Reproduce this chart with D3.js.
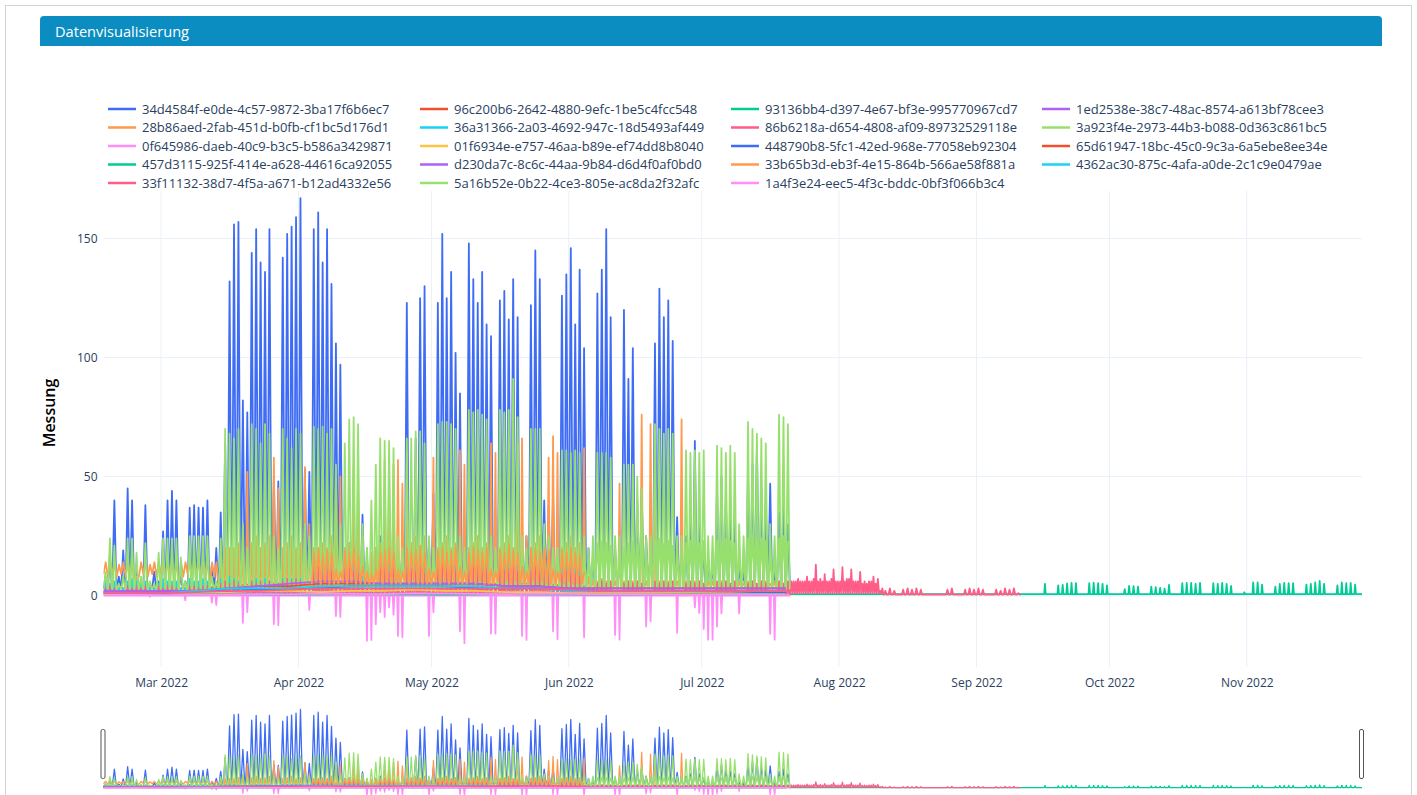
<!DOCTYPE html>
<html>
<head>
<meta charset="utf-8">
<script src="https://cdn.jsdelivr.net/npm/d3@7"></script>
<style>
  body { margin: 0; background: #fff; font-family: "Open Sans", sans-serif; }
  svg { display: block; }
</style>
</head>
<body>
<svg width="1417" height="795"></svg>
<script>
// Tag 0 = 16.02.2022
const startDatum = new Date(2022, 1, 16);

const serienNamen = [
  "34d4584f-e0de-4c57-9872-3ba17f6b6ec7", "96c200b6-2642-4880-9efc-1be5c4fcc548",
  "93136bb4-d397-4e67-bf3e-995770967cd7", "1ed2538e-38c7-48ac-8574-a613bf78cee3",
  "28b86aed-2fab-451d-b0fb-cf1bc5d176d1", "36a31366-2a03-4692-947c-18d5493af449",
  "86b6218a-d654-4808-af09-89732529118e", "3a923f4e-2973-44b3-b088-0d363c861bc5",
  "0f645986-daeb-40c9-b3c5-b586a3429871", "01f6934e-e757-46aa-b89e-ef74dd8b8040",
  "448790b8-5fc1-42ed-968e-77058eb92304", "65d61947-18bc-45c0-9c3a-6a5ebe8ee34e",
  "457d3115-925f-414e-a628-44616ca92055", "d230da7c-8c6c-44aa-9b84-d6d4f0af0bd0",
  "33b65b3d-eb3f-4e15-864b-566ae58f881a", "4362ac30-875c-4afa-a0de-2c1c9e0479ae",
  "33f11132-38d7-4f5a-a671-b12ad4332e56", "5a16b52e-0b22-4ce3-805e-ac8da2f32afc",
  "1a4f3e24-eec5-4f3c-bddc-0bf3f066b3c4"
];

const serienFarben = [
  "#3f6cf4", "#f0502f", "#00cc96", "#ab63fa", "#ff9a4d",
  "#19d3f3", "#ff5c88", "#98e06e", "#ff8ef8", "#fec544",
  "#3f6cf4", "#f0502f", "#00cc96", "#ab63fa", "#ff9a4d",
  "#19d3f3", "#ff5c88", "#98e06e", "#ff8ef8"
];

const yTicks = [0, 50, 100, 150];

// Tagesspitzen ab Tag 0
const w34d4584f = [
  8, 17, 40, 8, 19,
  45, 40, 12, 6, 38, 5, 10,
  6, 27, 40, 44, 40, 8, 6,
  37, 38, 37, 37, 40, 13, 20,
  35, 64, 132, 156, 157, 82, 77,
  144, 154, 140, 136, 154, 50, 48,
  142, 152, 155, 159, 167, 53, 52,
  154, 161, 140, 154, 131, 106, 97,
  20, 22, 20, 18, 34, 15, 12,
  20, 25, 20, 18, 15, 12, 20,
  123, 20, 66, 125, 130, 22, 43,
  123, 152, 125, 136, 102, 85, 20,
  148, 133, 123, 136, 114, 109, 20,
  124, 128, 116, 133, 117, 20, 25,
  122, 145, 133, 40, 38, 42, 15,
  126, 135, 146, 114, 137, 104, 20,
  15, 127, 137, 154, 117, 20, 15,
  120, 91, 104, 40, 45, 25, 20,
  106, 129, 117, 124, 107, 33, 20,
  25, 30, 65, 30, 20, 15, 12,
  45, 50, 40, 35, 30, 12, 10,
  50, 55, 63, 45, 40, 47, 10,
  35, 40, 30
];

// halbtägig, Tag 0 bis 25
const w28b86aed_a = [
  9, 14, 8, 14, 9, 14, 8, 13, 9, 14,
  8, 14, 9, 14, 3, 8, 8, 14, 9, 14, 8, 13, 9, 14,
  8, 14, 9, 14, 8, 14, 9, 14, 8, 14, 3, 14, 8, 14,
  9, 14, 8, 14, 9, 14, 8, 14, 9, 14, 3, 14, 8, 14
];
// Tagesspitzen ab Tag 26
const w28b86aed_b = [
  18, 20, 20, 20, 22, 25, 52,
  22, 25, 20, 22, 25, 58, 45,
  20, 22, 25, 20, 22, 54, 30,
  20, 18, 22, 20, 25, 54, 50,
  20, 22, 54, 50, 25, 20, 18,
  20, 22, 57, 50, 55, 57, 47,
  60, 22, 25, 20, 25, 20, 58,
  20, 22, 25, 20, 22, 61, 55,
  20, 22, 25, 20, 22, 64, 60,
  20, 22, 25, 20, 64, 66, 25,
  20, 22, 25, 20, 58, 67, 60,
  20, 22, 25, 20, 22, 62, 8,
  6, 6, 7, 6, 6, 6, 47,
  6, 6, 6, 6, 76, 6, 72,
  64, 6, 6, 6, 6, 6, 74,
  6, 5, 6, 6, 5, 6, 6,
  5, 6, 6, 5, 6, 6, 5,
  6, 6, 5, 6, 6, 5, 6,
  6, 5, 6
];

const w3a923f4e = [
  10, 24, 21, 5, 8,
  24, 24, 18, 8, 22, 6, 5,
  18, 24, 24, 24, 24, 16, 6,
  25, 25, 25, 25, 25, 8, 6,
  24, 70, 68, 66, 70, 30, 20,
  72, 70, 64, 72, 68, 25, 20,
  70, 66, 62, 70, 68, 30, 25,
  71, 70, 71, 68, 70, 55, 30,
  64, 74, 75, 72, 30, 20, 40,
  55, 66, 65, 65, 62, 25, 20,
  66, 66, 69, 69, 64, 25, 20,
  72, 73, 73, 72, 70, 25, 20,
  78, 77, 78, 76, 74, 25, 20,
  78, 77, 78, 91, 75, 25, 20,
  70, 70, 70, 30, 25, 20, 20,
  61, 61, 60, 61, 60, 25, 20,
  25, 60, 60, 60, 58, 25, 25,
  55, 55, 55, 50, 45, 25, 25,
  72, 70, 68, 70, 68, 25, 25,
  61, 60, 61, 60, 61, 25, 25,
  63, 62, 60, 63, 60, 30, 25,
  73, 70, 68, 66, 64, 30, 25,
  76, 75, 72
];

const w36a31366 = [
  7, 5, 6, 3, 3,
  6, 7, 6, 5, 6, 3, 3,
  5, 7, 6, 6, 6, 3, 3,
  7, 6, 6, 7, 6, 3, 3,
  7, 6, 8, 7, 6, 3, 3,
  6, 7, 6, 7, 6, 3, 3,
  7, 6, 7, 6, 7, 3, 3,
  13, 12, 14, 13, 12, 4, 3,
  12, 14, 13, 12, 8, 3, 3,
  5, 13, 12, 14, 13, 4, 3,
  13, 12, 14, 13, 12, 4, 3,
  14, 13, 12, 13, 12, 4, 3,
  13, 14, 12, 13, 12, 4, 3,
  12, 13, 14, 12, 13, 4, 3,
  13, 12, 14, 13, 12, 4, 3,
  14, 13, 12, 13, 12, 4, 3,
  2, 3, 3, 3, 3, 2, 2,
  3, 3, 3, 3, 3, 2, 2,
  3, 3, 3, 3, 3, 2, 2,
  3, 3, 3, 3, 3, 2, 2,
  3, 3, 3, 3, 3, 2, 2,
  3, 3, 3, 3, 3, 2, 2,
  3, 3, 3
];

// Tagesspitzen Tag 0 bis 154
const w86b6218a_a = [
  3, 4, 3, 1, 1,
  4, 3, 4, 3, 4, 1, 1,
  4, 3, 4, 4, 3, 1, 1,
  4, 4, 3, 4, 4, 1, 1,
  5, 6, 5, 6, 5, 2, 2,
  6, 5, 6, 5, 6, 2, 2,
  6, 7, 6, 7, 6, 2, 2,
  10, 12, 9, 11, 10, 3, 3,
  11, 12, 10, 9, 4, 3, 3,
  4, 11, 12, 10, 11, 3, 3,
  12, 11, 10, 12, 9, 3, 3,
  12, 16, 11, 12, 10, 3, 3,
  11, 12, 14, 10, 11, 3, 3,
  12, 10, 11, 13, 10, 3, 3,
  11, 12, 10, 11, 12, 3, 3,
  9, 10, 11, 9, 8, 3, 3,
  3, 5, 6, 5, 6, 2, 2,
  5, 6, 5, 6, 5, 2, 2,
  6, 5, 6, 5, 6, 2, 2,
  5, 6, 5, 6, 5, 2, 2,
  6, 5, 6, 5, 6, 2, 2,
  5, 6, 5, 6, 5, 2, 2,
  6, 5, 6
];
// vierteltägig, Tag 155 bis 175
const w86b6218a_b = [
  1, 6, 1, 6, 1, 6, 1, 7, 1, 6, 1, 6, 1, 6, 1, 8,
  1, 6, 1, 6, 1, 7, 1, 13, 1, 6, 1, 7, 1, 6, 1, 9,
  1, 6, 1, 6, 1, 7, 1, 11, 1, 6, 1, 6, 1, 6, 1, 12,
  1, 6, 1, 7, 1, 7, 1, 11, 1, 6, 1, 6, 1, 6, 1, 10,
  1, 5, 1, 6, 1, 5, 1, 6, 1, 6, 1, 8, 1, 5, 1, 7,
  1, 2, 1, 3
];
// Tagesspitzen Tag 176 bis 206
const w86b6218a_c = [
  2, 3, 2, 0.5, 2.5, 3, 2.5,
  3, 2.5, 0.5, 0.5, 0.5, 0.5, 0.5,
  2.5, 3, 0.5, 0.5, 2.5, 3, 2.5,
  3, 2.5, 0.5, 0.5, 2.5, 2, 3,
  2.5, 3, 1
];

const w0f645986 = [
  0, 0, 0, 0, 0,
  0, 0, 0, 0, 0, -0.5, 0,
  0, 0, 0, 0, 0, 0, -2,
  0, 0, 0, 0, 0, -3, -4,
  0, 0, 0, 0, 0, -11.5, -7,
  0, 0, 0, 0, 0, -12, -12.5,
  0, 0, 0, 0, 0, 0, -6,
  0, 0, 0, 0, 0, -8.6, -9,
  0, 0, 0, 0, 0, -19, -18.7,
  -12, -7, -9, -5, -8, -17, -17.5,
  0, 0, 0, 0, 0, -17, -7,
  0, 0, 0, 0, 0, -15, -20,
  0, 0, 0, 0, 0, -16, -16,
  0, 0, 0, 0, 0, -17, -18.6,
  0, 0, 0, 0, 0, -15, -18.3,
  0, 0, 0, 0, 0, -17.5, 0,
  0, 0, 0, 0, 0, -16.5, -18.5,
  0, 0, 0, 0, 0, -13, -10.8,
  0, 0, 0, 0, 0, -15.6, 0,
  0, 0, -5, -7.3, -14, -18.5, -18.5,
  -13, -7.5, 0, 0, 0, -7.5, 0,
  0, 0, 0, 0, 0, -16, -18.5,
  0, 0, 0
];

// Tagesspitzen ab Tag 155 (21.07.2022)
const w93136bb4 = [
  0.6, 0.6, 0.6, 0.6, 0.6, 0.6, 0.6, 0.6, 0.6, 0.6, 0.6, 0.6, 0.6, 0.6, 0.6,
  0.6, 0.6, 0.6, 0.6, 0.6, 0.6, 0.6, 0.6, 0.6, 0.6, 0.6, 0.6, 0.6, 0.6, 0.6,
  0.6, 0.6, 0.6, 0.6, 0.6, 0.6, 0.6, 0.6, 0.6, 0.6, 0.6, 0.6, 0.6, 0.6, 0.6,
  0.6, 0.6, 0.6, 0.6, 0.6, 0.6, 0.6, 0.6, 0.6, 0.6, 0.6, 0.6,
  4.9, 0.6, 0.6,
  4.3, 4.5, 5.1, 5.3, 5.2, 0.6, 0.6,
  5.2, 5.4, 5.2, 4.9, 4.3, 0.6, 0.6, 0.6,
  2.7, 4.1, 4.0, 3.8, 0.6, 0.6,
  3.8, 3.6, 3.2, 2.9, 4.5, 0.6, 0.6,
  5.2, 5.3, 5.3, 4.9, 5.3, 0.6, 0.6,
  5.2, 4.9, 5.3, 4.9, 4.1, 0.6, 0.6,
  1.4, 0.6, 5.5, 5.5, 4.6, 0.6, 0.6,
  3.8, 4.9, 5.3, 5.2, 5.2, 0.6, 0.6,
  4.6, 4.9, 5.5, 6.2, 4.9, 0.6, 0.6,
  4.3, 5.5, 5.2, 5.3, 4.6, 0.6
];

// halbtägig ab Tag 47
const w33b65b3d = [
  5, 18, 6, 20, 5, 17, 6, 19, 5, 18, 5, 11, 5, 10,
  6, 19, 5, 18, 6, 20, 5, 17, 5, 12, 5, 10, 5, 9,
  5, 11, 6, 18, 5, 19, 6, 20, 5, 18, 5, 11, 5, 10,
  6, 20, 5, 18, 6, 19, 5, 21, 5, 18, 5, 11, 5, 10,
  6, 19, 5, 20, 6, 18, 5, 19, 6, 21, 5, 12, 5, 10,
  5, 18, 6, 20, 5, 19, 6, 18, 5, 20, 5, 11, 5, 10,
  6, 19, 5, 18, 6, 21, 5, 19, 6, 18, 5, 12, 5, 10,
  5, 20, 6, 19, 5, 18, 6, 20, 5, 19, 5, 11, 5, 10,
  6, 19, 5, 18, 6, 20, 5, 18, 5, 17, 5, 10
];

// halbtägig ab Tag 109
const w5a16b52e = [
  4, 15,
  4, 18, 4, 22, 4, 23, 4, 22, 4, 21, 4, 15, 4, 13,
  4, 20, 4, 22, 4, 23, 4, 21, 4, 22, 4, 15, 4, 14,
  4, 23, 4, 24, 4, 22, 4, 23, 4, 21, 4, 16, 4, 14,
  4, 22, 4, 23, 4, 24, 4, 22, 4, 23, 4, 15, 4, 13,
  4, 23, 4, 22, 4, 24, 4, 23, 4, 22, 4, 16, 4, 14,
  4, 24, 4, 25, 4, 23, 4, 24, 4, 23, 4, 16, 4, 14,
  4, 24, 4, 25, 4, 23
];

// Wochenwerte ab Tag 0
const w96c200b6 = [3, 3, 3, 3, 4, 5, 5, 5, 5, 5, 5, 5, 5, 5, 5, 4, 3, 3, 3, 3, 3, 3, 3];
const w1ed2538e = [2, 2, 2, 2, 3, 3, 4, 5, 6, 5, 5, 6, 5, 4, 4, 3, 3, 3, 3, 3, 3, 3, 3];
const w01f6934e = [0.5, 0.8, 1, 1, 1.5, 2, 2, 1.5, 2, 2, 2.5, 2, 2, 1.5, 1.5, 1, 1, 1, 1, 1, 0.8, 0.8, 0.5];
const w448790b8 = [1, 1, 1.5, 2, 2, 2.5, 3, 3, 4, 4, 4, 4, 3, 3, 3, 2.5, 2, 2, 2, 2, 2, 1.5, 1.5];
const w65d61947 = [2, 2, 2, 2, 3, 4, 4, 5, 5, 5, 5, 5, 5, 4, 4, 3, 3, 3, 3, 3, 3, 3, 3];
const w457d3115 = [1.5, 1, 0.5, 0.5, 0.6, 0.5, 0.4, 0.5, 0.6, 0.5, 0.5, 0.4, 0.5, 0.6, 0.5, 0.5, 0.4, 0.5, 0.5, 0.6, 0.5, 0.5, 0.4];
const wd230da7c = [2, 2, 2, 2, 3, 4, 5, 6, 6, 5, 5, 5, 5, 4, 4, 3, 3, 3, 3, 3, 3, 3, 3];
const w4362ac30 = [1, 1, 1, 2, 3, 3, 3, 4, 4, 4, 4, 4, 4, 3, 3, 2, 2, 2, 2, 2, 2, 2, 2];
const w33f11132 = [1, 1, 1, 1.5, 2, 2, 2.5, 3, 3, 3, 3, 3, 3, 3, 3, 2.5, 2, 2, 2, 2, 2, 2, 2];
const w1a4f3e24 = [0.2, 0.3, 0.2, 0.4, 0.5, 0.6, 0.5, 0.8, 0.7, 0.6, 0.9, 0.8, 0.7, 0.6, 0.8, 0.7, 0.5, 0.6, 0.5, 0.4, 0.5, 0.4, 0.3];

// Abschnitte: Serie, Werte, Starttag, Schritt in Tagen, Nachtwert (null = Werte direkt verbinden)
const abschnitte = [
  [0, w34d4584f, 0, 1, 3],
  [1, w96c200b6, 0, 7, null],
  [2, w93136bb4, 155, 1, 0.6],
  [3, w1ed2538e, 0, 7, null],
  [4, w28b86aed_a, 0, 0.5, null],
  [4, w28b86aed_b, 26, 1, 4],
  [5, w36a31366, 0, 1, 1],
  [6, w86b6218a_a, 0, 1, 0.5],
  [6, w86b6218a_b, 155, 0.25, null],
  [6, w86b6218a_c, 176, 1, 0.4],
  [7, w3a923f4e, 0, 1, 3],
  [8, w0f645986, 0, 1, 0],
  [9, w01f6934e, 0, 7, null],
  [10, w448790b8, 0, 7, null],
  [11, w65d61947, 0, 7, null],
  [12, w457d3115, 0, 7, null],
  [13, wd230da7c, 0, 7, null],
  [14, w33b65b3d, 47, 0.5, null],
  [15, w4362ac30, 0, 7, null],
  [16, w33f11132, 0, 7, null],
  [17, w5a16b52e, 109, 0.5, null],
  [18, w1a4f3e24, 0, 7, null]
];

// Breite einer Tagesspitze in Tagen (Darstellung)
const spitzenBreite = [0.9, 0, 0.35, 0, 0.55, 0.5, 0.6, 0.8, 0.35];

const tagZuDatum = t => new Date(startDatum.getTime() + t * 864e5);

const abschnittPunkte = ([serie, werte, start, schritt, nacht]) => {
  const p = [];
  if (nacht === null) {
    werte.forEach((v, j) => p.push([tagZuDatum(start + j * schritt), v]));
    return p;
  }
  const b = spitzenBreite[serie] / 2;
  p.push([tagZuDatum(start), nacht]);
  werte.forEach((v, j) => {
    const t = start + j * schritt + 0.45;
    p.push([tagZuDatum(t - b), nacht]);
    p.push([tagZuDatum(t), v]);
    p.push([tagZuDatum(t + b), nacht]);
  });
  p.push([tagZuDatum(start + werte.length * schritt), nacht]);
  return p;
};

const serien = serienNamen.map((name, i) => ({
  name,
  farbe: serienFarben[i],
  punkte: abschnitte.filter(a => a[0] === i).flatMap(abschnittPunkte)
}));

const svg = d3.select("svg");
const textFarbe = "#2a3f5f";
const gitterFarbe = "#ebf0f8";

// Karte + Kopfzeile
svg.append("rect")
  .attr("x", 5.5).attr("y", 5.5)
  .attr("width", 1406).attr("height", 830)
  .attr("fill", "#fff").attr("stroke", "#d4d4d4");

svg.append("path")
  .attr("d", "M40,46 V20 Q40,16 44,16 H1378 Q1382,16 1382,20 V46 Z")
  .attr("fill", "#0b8dc1");

svg.append("text")
  .attr("x", 55).attr("y", 36.5)
  .attr("fill", "#fff")
  .style("font-family", "'Open Sans', sans-serif")
  .style("font-size", "14.6px")
  .text("Datenvisualisierung");

const margin = { left: 103.5, right: 1362, top: 191, bottom: 667 };

const xScale = d3.scaleTime()
  .domain(d3.extent(serien.flatMap(s => s.punkte), d => d[0]))
  .range([margin.left, margin.right]);

const yScale = d3.scaleLinear()
  .domain([-30, 170])
  .range([margin.bottom, margin.top]);

const yMini = d3.scaleLinear()
  .domain([-30, 170])
  .range([802, 708]);

// Gitter
const monate = xScale.ticks(d3.timeMonth.every(1));
svg.append("g")
  .selectAll("line")
  .data(monate)
  .join("line")
  .attr("x1", d => xScale(d)).attr("x2", d => xScale(d))
  .attr("y1", margin.top).attr("y2", margin.bottom)
  .attr("stroke", gitterFarbe);

svg.append("g")
  .selectAll("line")
  .data(yTicks)
  .join("line")
  .attr("x1", margin.left).attr("x2", margin.right)
  .attr("y1", d => yScale(d)).attr("y2", d => yScale(d))
  .attr("stroke", gitterFarbe)
  .attr("stroke-width", d => (d === 0 ? 2 : 1));

// Achsen
const xAxisG = svg.append("g")
  .attr("transform", `translate(0,${margin.bottom})`)
  .call(d3.axisBottom(xScale)
    .tickValues(monate)
    .tickFormat(d3.timeFormat("%b %Y"))
    .tickSize(0)
    .tickPadding(11));
xAxisG.select(".domain").remove();

const yAxisG = svg.append("g")
  .attr("transform", `translate(${margin.left},0)`)
  .call(d3.axisLeft(yScale).tickValues(yTicks).tickSize(0).tickPadding(6));
yAxisG.select(".domain").remove();

svg.selectAll(".tick text")
  .attr("fill", textFarbe)
  .style("font-family", "'Open Sans', sans-serif")
  .style("font-size", "12px");

svg.append("text")
  .attr("transform", `translate(55,${(margin.top + margin.bottom) / 2 - 16}) rotate(-90)`)
  .attr("text-anchor", "middle")
  .attr("fill", "#000")
  .style("font-family", "'Open Sans', sans-serif")
  .style("font-size", "16px")
  .style("font-weight", "600")
  .text("Messung");

// Linien
svg.append("clipPath").attr("id", "plotClip")
  .append("rect")
  .attr("x", margin.left).attr("y", margin.top)
  .attr("width", margin.right - margin.left)
  .attr("height", margin.bottom - margin.top);

const linie = d3.line().x(d => xScale(d[0])).y(d => yScale(d[1]));
const linieMini = d3.line().x(d => xScale(d[0])).y(d => yMini(d[1]));

svg.append("g")
  .attr("clip-path", "url(#plotClip)")
  .selectAll("path")
  .data(serien)
  .join("path")
  .attr("d", d => linie(d.punkte))
  .attr("fill", "none")
  .attr("stroke", d => d.farbe)
  .attr("stroke-width", 1.8)
  .attr("stroke-linejoin", "round");

// Rangeslider
svg.append("g")
  .selectAll("path")
  .data(serien)
  .join("path")
  .attr("d", d => linieMini(d.punkte))
  .attr("fill", "none")
  .attr("stroke", d => d.farbe)
  .attr("stroke-width", 1.3)
  .attr("stroke-linejoin", "round");

svg.append("g")
  .selectAll("rect")
  .data(xScale.domain())
  .join("rect")
  .attr("x", d => xScale(d) - 2.5)
  .attr("y", 729.5)
  .attr("width", 4).attr("height", 49)
  .attr("rx", 1.5)
  .attr("fill", "#fff")
  .attr("stroke", "#555");

// Legende
const legendeSpalten = [108, 420, 731, 1042];
const legendeZeilen = [109, 127.5, 146, 164.5, 183];

const legende = svg.append("g")
  .selectAll("g")
  .data(serien)
  .join("g")
  .attr("transform", (d, i) =>
    `translate(${legendeSpalten[i % 4]},${legendeZeilen[Math.floor(i / 4)]})`);

legende.append("line")
  .attr("x1", 0).attr("x2", 28)
  .attr("stroke", d => d.farbe)
  .attr("stroke-width", 2.5);

legende.append("text")
  .attr("x", 34)
  .attr("dy", "0.35em")
  .attr("fill", textFarbe)
  .style("font-family", "'Open Sans', sans-serif")
  .style("font-size", "13px")
  .text(d => d.name);
</script>
</body>
</html>
